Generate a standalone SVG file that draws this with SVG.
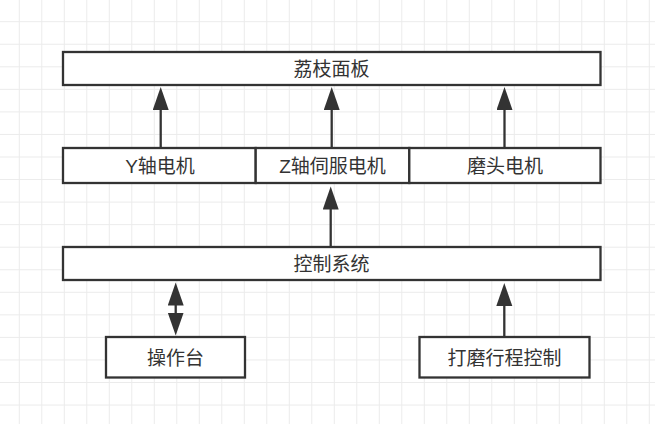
<svg xmlns="http://www.w3.org/2000/svg" width="655" height="424" viewBox="0 0 655 424">
<defs>
<pattern id="grid" patternUnits="userSpaceOnUse" x="18.8" y="21.2" width="22.5" height="22.55">
<path d="M0 0.5 H22.5 M0.5 0 V22.55" stroke="#ebebeb" stroke-width="1" fill="none"/>
</pattern>
<marker id="arr" markerUnits="userSpaceOnUse" markerWidth="24" markerHeight="17" refX="18" refY="8" orient="auto-start-reverse" viewBox="0 0 24 17">
<path d="M0 0 L23 8 L0 16 Z" fill="#333"/>
</marker>
</defs>
<style>
.box{fill:#fff;stroke:#333;stroke-width:2.3}
.lbl{font-family:"Liberation Sans","Noto Sans CJK SC",sans-serif;font-size:19px;fill:#333;text-anchor:middle;dominant-baseline:central}
.cn{stroke:#333;stroke-width:2.3;fill:none}
</style>
<rect width="655" height="424" fill="#fff"/>
<rect width="655" height="424" fill="url(#grid)"/>
<g id="connectors">
<line class="cn" x1="160.7" y1="148" x2="160.7" y2="92" marker-end="url(#arr)"/>
<line class="cn" x1="331.7" y1="148" x2="331.7" y2="92" marker-end="url(#arr)"/>
<line class="cn" x1="504.5" y1="148" x2="504.5" y2="92" marker-end="url(#arr)"/>
<line class="cn" x1="330.7" y1="247" x2="330.7" y2="191.5" marker-end="url(#arr)"/>
<line class="cn" x1="175.7" y1="287.5" x2="175.7" y2="330.5" marker-start="url(#arr)" marker-end="url(#arr)"/>
<line class="cn" x1="504.3" y1="337" x2="504.3" y2="288" marker-end="url(#arr)"/>
</g>
<g id="n-panel">
<rect class="box" x="63" y="52" width="537.5" height="33"/>
<text class="lbl" x="331.5" y="69">荔枝面板</text>
</g>
<g id="n-ymotor">
<rect class="box" x="63" y="148" width="192.7" height="35"/>
<text class="lbl" x="160" y="166">Y轴电机</text>
</g>
<g id="n-zmotor">
<rect class="box" x="255.7" y="148" width="153.6" height="35"/>
<text class="lbl" x="332.5" y="166">Z轴伺服电机</text>
</g>
<g id="n-grinder">
<rect class="box" x="409.3" y="148" width="191.2" height="35"/>
<text class="lbl" x="505" y="166">磨头电机</text>
</g>
<g id="n-control">
<rect class="box" x="63" y="247" width="537.5" height="33"/>
<text class="lbl" x="331.5" y="264">控制系统</text>
</g>
<g id="n-console">
<rect class="box" x="106" y="337" width="139" height="40.5"/>
<text class="lbl" x="175.5" y="358">操作台</text>
</g>
<g id="n-stroke">
<rect class="box" x="419.5" y="337" width="170" height="40.5"/>
<text class="lbl" x="504.5" y="358">打磨行程控制</text>
</g>
</svg>
